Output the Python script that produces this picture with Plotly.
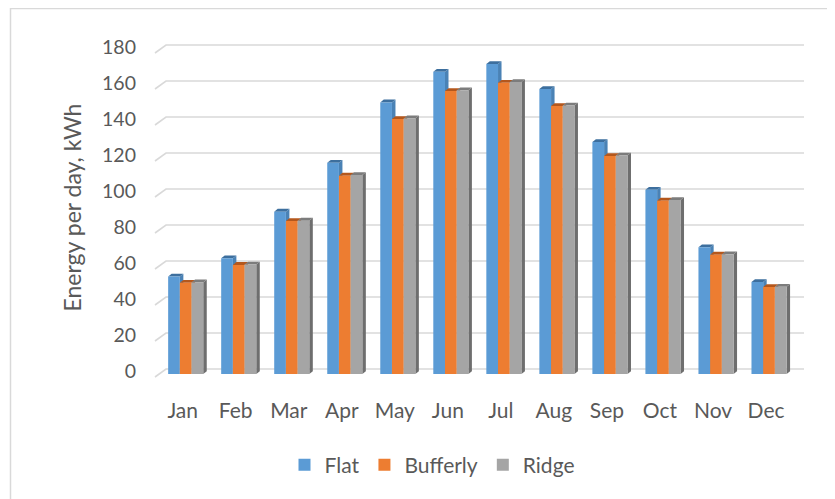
import plotly.graph_objects as go

months = ["Jan", "Feb", "Mar", "Apr", "May", "Jun", "Jul", "Aug", "Sep", "Oct", "Nov", "Dec"]
flat = [54.1, 64.3, 90.2, 117.4, 150.9, 167.9, 172.2, 158.3, 128.9, 102.4, 70.4, 51.1]
bufferly = [50.7, 60.6, 85.0, 110.2, 141.7, 157.2, 161.8, 148.9, 121.1, 96.3, 66.3, 48.3]
ridge = [50.9, 60.8, 85.2, 110.5, 142.0, 157.6, 162.2, 149.2, 121.4, 96.6, 66.5, 48.5]
y_ticks = [0, 20, 40, 60, 80, 100, 120, 140, 160, 180]

series = [
    ("Flat", flat, "#5B9BD5", "#3D6F9E", "#4A82B5"),
    ("Bufferly", bufferly, "#ED7D31", "#B4571C", "#C9651F"),
    ("Ridge", ridge, "#A5A5A5", "#7C7C7C", "#6E6E6E"),
]

# plot-area geometry (pixels in the target picture)
W, H = 835, 499
OFF = 8             # page body margin of the browser
pl, pr, pt, pb = 150, 810, 30, 385
px_per_x = 53.03
px_per_y = 1.8
x0_px = 185.7       # centre of first category at bar depth
y0_px = 374.0       # zero at bar depth
xr = [(pl - x0_px) / px_per_x, (pr - x0_px) / px_per_x]
yr = [(y0_px - pb) / px_per_y, (y0_px - pt) / px_per_y]

bargap = 0.338
bw = (1 - bargap) / 3
ddx = 3.5 / px_per_x   # depth offset (x)
ddy = 2.8 / px_per_y   # depth offset (y)

fig = go.Figure()
xs = list(range(len(months)))
shapes = []
for k, (name, vals, col, capcol, sidecol) in enumerate(series):
    fig.add_trace(go.Bar(
        x=xs, y=vals, name=name, marker=dict(color=col, line=dict(width=0)),
    ))
    for i, v in enumerate(vals):
        xl = i - 1.5 * bw + k * bw
        xrr = xl + bw
        cap = f"M {xl},{v} L {xl+ddx},{v+ddy} L {xrr+ddx},{v+ddy} L {xrr},{v} Z"
        side = f"M {xrr},0 L {xrr},{v} L {xrr+ddx},{v+ddy} L {xrr+ddx},{ddy} Z"
        shapes.append(dict(type="path", path=side, xref="x", yref="y",
                           fillcolor=sidecol, line=dict(width=0), layer="between"))
        shapes.append(dict(type="path", path=cap, xref="x", yref="y",
                           fillcolor=capcol, line=dict(width=0), layer="between"))

# 3D gridlines (front-left stub + back wall line)
gx_front = (155 - x0_px) / px_per_x
gx_back = (166 - x0_px) / px_per_x
gx_right = (804 - x0_px) / px_per_x
fy = 3 / px_per_y
by = 5 / px_per_y
for t in y_ticks:
    path = f"M {gx_front},{t-fy} L {gx_back},{t+by} L {gx_right},{t+by}"
    shapes.append(dict(type="path", path=path, xref="x", yref="y",
                       line=dict(color="#D9D9D9", width=1.6), layer="below"))

# chart border
shapes.append(dict(type="rect", xref="paper", yref="paper",
                   x0=(10.5 - pl) / (pr - pl), x1=2,
                   y0=-2, y1=(pb - 8.5) / (pb - pt),
                   line=dict(color="#D9D9D9", width=1.5), layer="below"))

font_family = "Lato, 'Open Sans', sans-serif"
fig.update_layout(
    width=W, height=H,
    margin=dict(l=pl - OFF, r=W - (pr - OFF), t=pt - OFF, b=H - (pb - OFF),
                autoexpand=False),
    paper_bgcolor="white", plot_bgcolor="white",
    barmode="group", bargap=bargap, bargroupgap=0,
    shapes=shapes,
    font=dict(family=font_family, color="#595959"),
    showlegend=True,
    legend=dict(orientation="h", xref="container", yref="container",
                x=(432 - OFF) / W, y=1 - (465 - OFF) / H,
                xanchor="center", yanchor="middle",
                font=dict(size=21, color="#595959"), itemwidth=30,
                traceorder="normal"),
    xaxis=dict(range=xr, tickvals=xs, ticktext=months, showgrid=False,
               zeroline=False, showline=False, ticks="", automargin=False,
               tickfont=dict(size=21, color="#595959"),
               ticklabelshift=-3, ticklabelstandoff=11),
    yaxis=dict(range=yr, tickvals=y_ticks, showgrid=False, zeroline=False,
               showline=False, ticks="", automargin=False,
               tickfont=dict(size=19.5, color="#595959"),
               ticklabelshift=-3, ticklabelstandoff=13,
               title=dict(text="Energy per day, kWh",
                          font=dict(size=23, color="#595959"), standoff=14)),
)

fig.write_html("out.html")
